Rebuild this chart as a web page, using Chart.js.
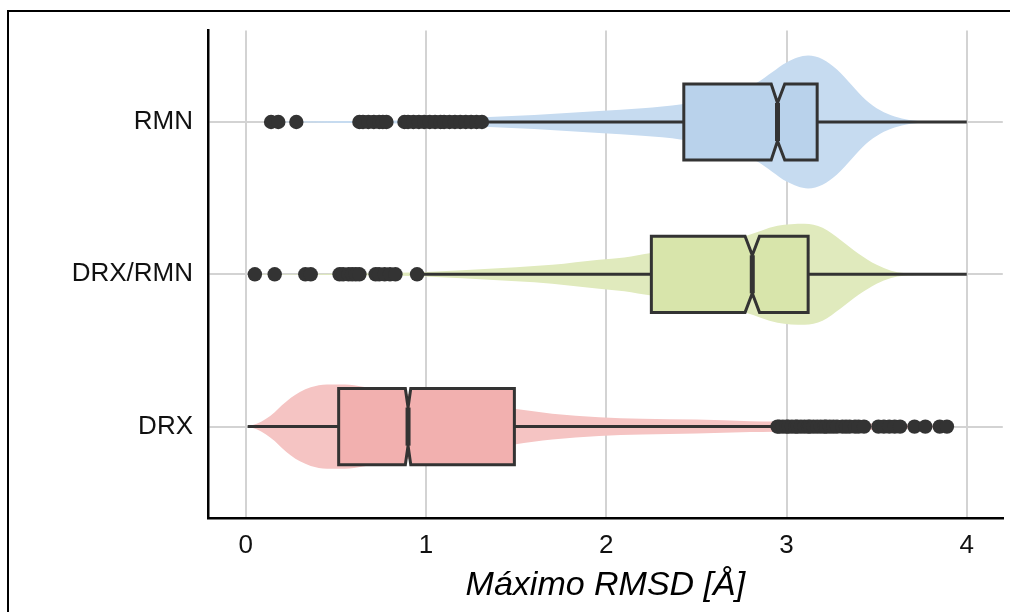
<!DOCTYPE html>
<html>
<head>
<meta charset="utf-8">
<script src="https://cdn.jsdelivr.net/npm/chart.js@4.4.1/dist/chart.umd.min.js"></script>
<style>
  html, body { margin: 0; padding: 0; background: #fff; }
  #wrap { position: relative; width: 1010px; height: 612px; overflow: hidden; }
  #frame { position: absolute; left: 7px; top: 10px; right: -4px; bottom: -4px;
           border-top: 2px solid #000; border-left: 2px solid #000; }
  #c { position: absolute; left: 0; top: 0; }
</style>
</head>
<body>
<div id="wrap">
  <div id="frame"></div>
  <canvas id="c" width="1010" height="612"></canvas>
</div>
<script>
// grupos en el eje y (posiciones 1, 2, 3)
var categories = ["DRX", "DRX/RMN", "RMN"];
var xTicks = [0, 1, 2, 3, 4];

// bigote inferior, Q1, mediana, Q3, bigote superior
var drxBox    = [0.01, 0.515, 0.90, 1.49, 2.93];
var drxRmnBox = [0.97, 2.25, 2.81, 3.12, 4.00];
var rmnBox    = [1.34, 2.43, 2.95, 3.17, 4.00];
// intervalo de la muesca alrededor de la mediana
var drxNotch    = [0.885, 0.915];
var drxRmnNotch = [2.77, 2.85];
var rmnNotch    = [2.915, 2.99];

// valores atípicos
var drxOutliers = [2.95, 2.96, 2.98, 3.00, 3.01, 3.03, 3.05, 3.06, 3.08, 3.10, 3.12, 3.13,
  3.15, 3.17, 3.19, 3.21, 3.22, 3.24, 3.26, 3.28, 3.31, 3.33, 3.35, 3.38, 3.40, 3.43,
  3.51, 3.54, 3.57, 3.60, 3.63, 3.71, 3.77, 3.85, 3.89];
var drxRmnOutliers = [0.05, 0.16, 0.33, 0.36, 0.52, 0.54, 0.57, 0.59, 0.61, 0.63,
  0.72, 0.74, 0.77, 0.80, 0.83, 0.95];
var rmnOutliers = [0.14, 0.18, 0.28, 0.63, 0.65, 0.68, 0.71, 0.74, 0.76, 0.78,
  0.88, 0.90, 0.93, 0.96, 0.99, 1.02, 1.05, 1.08, 1.10, 1.13, 1.16, 1.19, 1.22, 1.25, 1.28, 1.31];

// perfil del violín: posición en x y semiancho (unidades del eje y)
var drxViolinX = [0.01, 0.06, 0.11, 0.16, 0.20, 0.25, 0.30, 0.36, 0.45, 0.55, 0.65, 0.80,
  1.00, 1.20, 1.49, 1.70, 1.96, 2.20, 2.50, 2.80, 2.93, 3.20, 3.50, 3.70, 3.89];
var drxViolinW = [0.000, 0.018, 0.050, 0.095, 0.140, 0.190, 0.228, 0.258, 0.276, 0.276, 0.262, 0.232,
  0.195, 0.160, 0.117, 0.085, 0.062, 0.052, 0.046, 0.036, 0.033, 0.026, 0.020, 0.013, 0.003];
var drxRmnViolinX = [0.05, 0.50, 0.97, 1.20, 1.50, 1.70, 1.96, 2.10, 2.25, 2.50, 2.77, 2.95,
  3.10, 3.20, 3.30, 3.40, 3.50, 3.58, 3.65, 3.75, 3.88, 4.00];
var drxRmnViolinW = [0.002, 0.004, 0.013, 0.026, 0.046, 0.062, 0.095, 0.111, 0.140, 0.180, 0.250, 0.318,
  0.332, 0.305, 0.225, 0.135, 0.062, 0.024, 0.009, 0.005, 0.003, 0.002];
var rmnViolinX = [0.14, 0.50, 1.00, 1.35, 1.60, 1.96, 2.20, 2.42, 2.60, 2.75, 2.84, 2.92,
  3.00, 3.12, 3.20, 3.28, 3.36, 3.44, 3.52, 3.60, 3.68, 3.78, 4.00];
var rmnViolinW = [0.002, 0.006, 0.013, 0.033, 0.046, 0.072, 0.091, 0.117, 0.163, 0.215, 0.261, 0.326,
  0.391, 0.436, 0.412, 0.345, 0.245, 0.145, 0.077, 0.036, 0.013, 0.005, 0.002];

var groups = [
  { pos: 1, box: drxBox,    notch: drxNotch,    out: drxOutliers,    vx: drxViolinX,    vw: drxViolinW,
    violin: "#f5c4c3", fill: "#f2b0af" },
  { pos: 2, box: drxRmnBox, notch: drxRmnNotch, out: drxRmnOutliers, vx: drxRmnViolinX, vw: drxRmnViolinW,
    violin: "#e0eabd", fill: "#d8e5ab" },
  { pos: 3, box: rmnBox,    notch: rmnNotch,    out: rmnOutliers,    vx: rmnViolinX,    vw: rmnViolinW,
    violin: "#c6dbf0", fill: "#b9d2eb" }
];

var BOX_HALF = 0.25;
var INK = "#333333";
var FONT = "'Liberation Sans', Arial, Helvetica, sans-serif";

var datasets = [];
// puntos atípicos (encima de todo)
groups.forEach(function (g) {
  datasets.push({
    type: "scatter",
    data: g.out.map(function (v) { return { x: v, y: g.pos }; }),
    pointRadius: 7.2, pointBorderWidth: 0, pointBackgroundColor: INK,
    pointHoverRadius: 7.2, order: 0
  });
});
var firstViolin = datasets.length;
// violines: borde superior + borde inferior rellenado hasta el anterior
groups.forEach(function (g) {
  var common = {
    type: "line", borderColor: "rgba(0,0,0,0)", borderWidth: 0, pointRadius: 0,
    cubicInterpolationMode: "monotone", backgroundColor: g.violin, order: 1
  };
  datasets.push(Object.assign({}, common, {
    data: g.vx.map(function (v, i) { return { x: v, y: g.pos + g.vw[i] }; }), fill: false
  }));
  datasets.push(Object.assign({}, common, {
    data: g.vx.map(function (v, i) { return { x: v, y: g.pos - g.vw[i] }; }), fill: "-1"
  }));
});

// cajas con muesca y bigotes, dibujadas tras el último violín
var boxPlugin = {
  id: "notchedBoxes",
  afterDatasetDraw: function (chart, args) {
    if (args.index !== firstViolin) return;
    var ctx = chart.ctx, xs = chart.scales.x, ys = chart.scales.y;
    groups.forEach(function (g) {
      var b = g.box;
      var X = function (v) { return xs.getPixelForValue(v); };
      var cy = ys.getPixelForValue(g.pos);
      var top = ys.getPixelForValue(g.pos + BOX_HALF);
      var bot = ys.getPixelForValue(g.pos - BOX_HALF);
      var mTop = ys.getPixelForValue(g.pos + BOX_HALF / 2);
      var mBot = ys.getPixelForValue(g.pos - BOX_HALF / 2);
      ctx.save();
      ctx.strokeStyle = INK;
      ctx.lineWidth = 3;
      ctx.lineJoin = "miter";
      ctx.beginPath();
      ctx.moveTo(X(b[0]), cy); ctx.lineTo(X(b[1]), cy);
      ctx.moveTo(X(b[3]), cy); ctx.lineTo(X(b[4]), cy);
      ctx.stroke();
      ctx.beginPath();
      ctx.moveTo(X(b[1]), top);
      ctx.lineTo(X(g.notch[0]), top);
      ctx.lineTo(X(b[2]), mTop);
      ctx.lineTo(X(g.notch[1]), top);
      ctx.lineTo(X(b[3]), top);
      ctx.lineTo(X(b[3]), bot);
      ctx.lineTo(X(g.notch[1]), bot);
      ctx.lineTo(X(b[2]), mBot);
      ctx.lineTo(X(g.notch[0]), bot);
      ctx.lineTo(X(b[1]), bot);
      ctx.closePath();
      ctx.fillStyle = g.fill;
      ctx.fill();
      ctx.stroke();
      ctx.lineWidth = 5;
      ctx.lineCap = "butt";
      ctx.beginPath();
      ctx.moveTo(X(b[2]), mTop); ctx.lineTo(X(b[2]), mBot);
      ctx.stroke();
      ctx.restore();
    });
  }
};

new Chart(document.getElementById("c"), {
  type: "scatter",
  data: { datasets: datasets },
  plugins: [boxPlugin],
  options: {
    responsive: false, animation: false,
    layout: { padding: { top: 28, right: 5, left: 0, bottom: 0 } },
    plugins: { legend: { display: false }, tooltip: { enabled: false } },
    scales: {
      x: {
        type: "linear", min: -0.21, max: 4.2,
        afterBuildTicks: function (s) { s.ticks = xTicks.map(function (v) { return { value: v }; }); },
        afterFit: function (s) { s.height = 94; },
        ticks: { color: "#111", padding: 12, font: { family: FONT, size: 26 } },
        grid: { color: "#d3d3d3", lineWidth: 2, drawTicks: false },
        border: { display: true, color: "#000", width: 2.5 },
        title: { display: true, text: "Máximo RMSD [Å]", color: "#000",
                 padding: { top: 0, bottom: 6 }, font: { family: FONT, size: 34, style: "italic" } }
      },
      y: {
        type: "linear", min: 0.4, max: 3.6,
        afterBuildTicks: function (s) { s.ticks = [1, 2, 3].map(function (v) { return { value: v }; }); },
        afterFit: function (s) { s.width = 208; },
        ticks: { color: "#111", padding: 15, font: { family: FONT, size: 26 },
                 callback: function (v) { return categories[v - 1]; } },
        grid: { color: "#d3d3d3", lineWidth: 2, drawTicks: false },
        border: { display: true, color: "#000", width: 2.5 }
      }
    }
  }
});
</script>
</body>
</html>
